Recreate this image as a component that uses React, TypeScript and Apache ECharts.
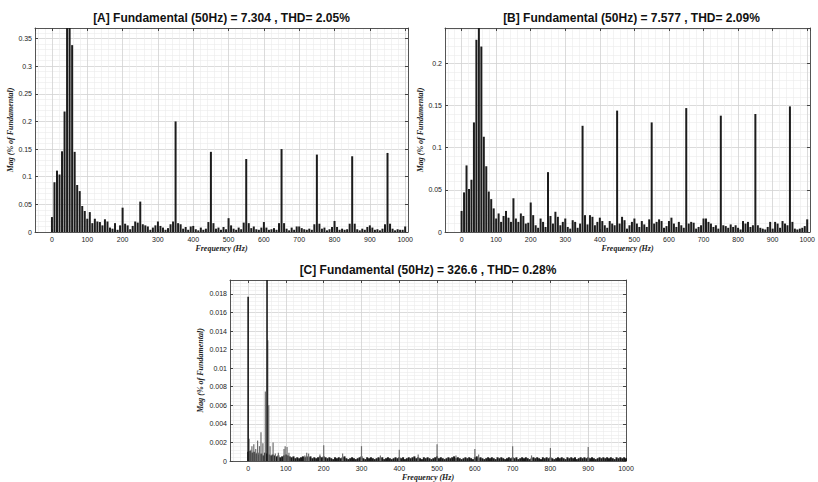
import React, { useEffect, useRef } from 'react';
import * as echarts from 'echarts';

// Frequency resolution of panels A and B (Hz)
const binAB = 50 / 7;
// Frequency step of the noise floor in panel C (Hz)
const binC = 5;

const titles = [
  '[A] Fundamental (50Hz) = 7.304 , THD= 2.05%',
  '[B] Fundamental (50Hz) = 7.577 , THD= 2.09%',
  '[C] Fundamental (50Hz) = 326.6 , THD= 0.28%',
];
const xName = 'Frequency (Hz)';
const yName = 'Mag (% of Fundamental)';

const yMax = [0.369, 0.242, 0.0195];
const yStep = [0.05, 0.05, 0.002];

// Panel A magnitudes, one per bin of 50/7 Hz from 0 to 1000 Hz
const magA = [
  0.027, 0.090, 0.111, 0.104, 0.146, 0.218, 0.40, 100, 0.338, 0.145,
  0.085, 0.074, 0.047, 0.038, 0.024, 0.036, 0.016, 0.024, 0.019, 0.018,
  0.012, 0.023, 0.019, 0.008, 0.006, 0.016, 0.004, 0.012, 0.044, 0.015,
  0.012, 0.005, 0.011, 0.019, 0.017, 0.055, 0.014, 0.012, 0.010, 0.004,
  0.008, 0.012, 0.019, 0.011, 0.008, 0.004, 0.007, 0.014, 0.019, 0.200,
  0.016, 0.014, 0.006, 0.009, 0.004, 0.010, 0.011, 0.005, 0.003, 0.008,
  0.004, 0.006, 0.018, 0.145, 0.016, 0.006, 0.008, 0.004, 0.009, 0.005,
  0.025, 0.012, 0.006, 0.004, 0.008, 0.005, 0.017, 0.132, 0.016, 0.007,
  0.010, 0.005, 0.004, 0.008, 0.018, 0.008, 0.004, 0.005, 0.007, 0.004,
  0.016, 0.150, 0.016, 0.006, 0.003, 0.008, 0.004, 0.010, 0.010, 0.007,
  0.005, 0.004, 0.006, 0.004, 0.014, 0.140, 0.015, 0.006, 0.008, 0.003,
  0.005, 0.009, 0.020, 0.009, 0.004, 0.006, 0.004, 0.005, 0.015, 0.137,
  0.015, 0.005, 0.003, 0.006, 0.004, 0.009, 0.012, 0.008, 0.004, 0.005,
  0.003, 0.006, 0.014, 0.143, 0.015, 0.006, 0.003, 0.005, 0.004, 0.004,
  0.010,
];

// Panel B magnitudes, one per bin of 50/7 Hz from 0 to 1000 Hz
const magB = [
  0.025, 0.047, 0.079, 0.051, 0.062, 0.130, 0.228, 100, 0.220, 0.113,
  0.078, 0.048, 0.039, 0.028, 0.016, 0.022, 0.012, 0.019, 0.025, 0.017,
  0.012, 0.040, 0.016, 0.012, 0.022, 0.019, 0.010, 0.011, 0.035, 0.020,
  0.008, 0.005, 0.016, 0.012, 0.006, 0.071, 0.019, 0.010, 0.024, 0.018,
  0.008, 0.012, 0.016, 0.006, 0.004, 0.014, 0.012, 0.005, 0.010, 0.126,
  0.020, 0.009, 0.020, 0.018, 0.008, 0.012, 0.017, 0.013, 0.008, 0.005,
  0.013, 0.010, 0.008, 0.144, 0.010, 0.018, 0.014, 0.004, 0.008, 0.012,
  0.016, 0.010, 0.006, 0.013, 0.009, 0.006, 0.015, 0.130, 0.010, 0.012,
  0.015, 0.013, 0.005, 0.007, 0.013, 0.017, 0.010, 0.006, 0.012, 0.008,
  0.005, 0.147, 0.010, 0.012, 0.011, 0.004, 0.006, 0.008, 0.016, 0.016,
  0.012, 0.010, 0.006, 0.008, 0.004, 0.138, 0.008, 0.007, 0.005, 0.009,
  0.006, 0.008, 0.005, 0.003, 0.013, 0.010, 0.012, 0.006, 0.008, 0.140,
  0.008, 0.005, 0.004, 0.003, 0.006, 0.012, 0.004, 0.012, 0.010, 0.005,
  0.013, 0.010, 0.008, 0.149, 0.012, 0.004, 0.003, 0.004, 0.005, 0.007,
  0.015,
];

// Panel C noise floor, one value per 5 Hz from 0 to 1000 Hz
const magCNoise = [
  0.0010, 0.0011, 0.0009, 0.0010, 0.0008, 0.0009, 0.0007, 0.0008, 0.0006, 0.0009, 0.0008, 0.0007, 0.0006, 0.0007, 0.0006, 0.0005, 0.0006, 0.0004, 0.0005, 0.0006,
  0.0007, 0.0006, 0.0005, 0.0004, 0.0005, 0.0003, 0.0004, 0.0003, 0.0004, 0.0005, 0.0004, 0.0005, 0.0004, 0.0005, 0.0003, 0.0004, 0.0003, 0.0004, 0.0005, 0.0004,
  0.0005, 0.0004, 0.0003, 0.0004, 0.0003, 0.0002, 0.0004, 0.0003, 0.0004, 0.0003, 0.0004, 0.0005, 0.0003, 0.0002, 0.0003, 0.0004, 0.0003, 0.0002, 0.0003, 0.0004,
  0.0005, 0.0003, 0.0002, 0.0004, 0.0003, 0.0004, 0.0003, 0.0002, 0.0003, 0.0004, 0.0003, 0.0004, 0.0002, 0.0003, 0.0004, 0.0003, 0.0002, 0.0003, 0.0004, 0.0003,
  0.0004, 0.0003, 0.0004, 0.0002, 0.0003, 0.0004, 0.0003, 0.0004, 0.0005, 0.0003, 0.0004, 0.0003, 0.0002, 0.0004, 0.0003, 0.0004, 0.0003, 0.0002, 0.0003, 0.0004,
  0.0005, 0.0003, 0.0004, 0.0003, 0.0002, 0.0003, 0.0004, 0.0003, 0.0004, 0.0005, 0.0003, 0.0004, 0.0003, 0.0002, 0.0003, 0.0004, 0.0003, 0.0004, 0.0003, 0.0002,
  0.0004, 0.0005, 0.0003, 0.0004, 0.0003, 0.0002, 0.0003, 0.0004, 0.0003, 0.0004, 0.0003, 0.0002, 0.0004, 0.0003, 0.0004, 0.0003, 0.0002, 0.0003, 0.0004, 0.0003,
  0.0004, 0.0003, 0.0004, 0.0002, 0.0003, 0.0004, 0.0003, 0.0004, 0.0003, 0.0002, 0.0003, 0.0004, 0.0003, 0.0004, 0.0003, 0.0002, 0.0004, 0.0003, 0.0004, 0.0003,
  0.0004, 0.0003, 0.0002, 0.0003, 0.0004, 0.0003, 0.0004, 0.0003, 0.0002, 0.0004, 0.0003, 0.0004, 0.0003, 0.0004, 0.0002, 0.0003, 0.0004, 0.0003, 0.0004, 0.0003,
  0.0004, 0.0003, 0.0004, 0.0003, 0.0002, 0.0003, 0.0004, 0.0003, 0.0004, 0.0003, 0.0004, 0.0003, 0.0004, 0.0003, 0.0002, 0.0004, 0.0003, 0.0004, 0.0003, 0.0004,
  0.0003,
];

// Panel C dark spectral lines (DC and fundamental): [frequency Hz, magnitude]
const linesCDark: [number, number][] = [[0, 0.0177], [50, 100]];
// Panel C grey spectral lines: [frequency Hz, magnitude]
const linesCGrey: [number, number][] = [
  [2.5, 0.0024], [7.5, 0.0012], [10, 0.0016], [15, 0.0018],
  [20, 0.0013], [25, 0.0022], [30, 0.0016], [34, 0.0031], [39, 0.0019],
  [45.5, 0.0075], [52, 0.013], [54.5, 0.006], [58, 0.0016],
  [66, 0.002], [72, 0.0008], [80, 0.0009], [95, 0.0013], [98, 0.0016],
  [103, 0.0015], [108, 0.0009], [150, 0.0006], [155, 0.0009], [160, 0.0008],
  [190, 0.0007], [200, 0.0017], [250, 0.0008], [300, 0.0016], [350, 0.0006],
  [400, 0.0012], [450, 0.0007], [500, 0.0018], [550, 0.0006], [600, 0.0013],
  [610, 0.0007], [700, 0.0016], [750, 0.0006], [800, 0.0014], [900, 0.0015],
];

const gridBoxes = [
  { left: 35, top: 28, width: 373, height: 204 },
  { left: 445, top: 28, width: 373, height: 204 },
  { left: 230, top: 280, width: 396, height: 185 },
];
const xRanges: [number, number][] = [[-48, 1008], [-48, 1008], [-48, 1000]];
const yNameGaps = [19, 15, 26];

const labelFont = { fontFamily: 'Liberation Sans, Arial, sans-serif', fontSize: 7, color: '#222' };
const nameFont = {
  fontFamily: 'Liberation Serif, Times New Roman, serif',
  fontStyle: 'italic' as const,
  fontWeight: 'bold' as const,
  fontSize: 8,
  color: '#222',
};

function xAxisDef(i: number, kind: 'bottom' | 'top' | 'hidden') {
  const main = kind === 'bottom';
  return {
    type: 'value',
    gridIndex: i,
    position: kind === 'bottom' ? 'bottom' : 'top',
    show: kind !== 'hidden',
    min: xRanges[i][0],
    max: xRanges[i][1],
    splitNumber: 10,
    name: main ? xName : '',
    nameLocation: 'middle',
    nameGap: 12,
    nameTextStyle: nameFont,
    axisLine: { show: true, onZero: false, lineStyle: { color: '#555', width: 1 } },
    axisTick: { show: true, inside: true, length: 3, lineStyle: { color: '#444' } },
    axisLabel: {
      show: main,
      margin: 4,
      showMinLabel: false,
      showMaxLabel: xRanges[i][1] === 1000,
      formatter: (v: number) => String(v),
      ...labelFont,
    },
    splitLine: { show: main, lineStyle: { color: '#d2d2d2', width: 0.8 } },
    minorTick: { show: false, splitNumber: 5 },
    minorSplitLine: { show: main, lineStyle: { color: '#ebebeb', width: 0.6 } },
  };
}

function yAxisDef(i: number, right: boolean) {
  return {
    type: 'value',
    gridIndex: i,
    position: right ? 'right' : 'left',
    min: 0,
    max: yMax[i],
    interval: yStep[i],
    name: right ? '' : yName,
    nameLocation: 'middle',
    nameGap: yNameGaps[i],
    nameTextStyle: nameFont,
    axisLine: { show: true, onZero: false, lineStyle: { color: '#555', width: 1 } },
    axisTick: { show: true, inside: true, length: 3, lineStyle: { color: '#444' } },
    axisLabel: { show: !right, margin: 3, showMaxLabel: false, ...labelFont },
    splitLine: { show: !right, lineStyle: { color: '#d2d2d2', width: 0.8 } },
    minorTick: { show: false, splitNumber: 5 },
    minorSplitLine: { show: !right, lineStyle: { color: '#ebebeb', width: 0.6 } },
  };
}

export default function App() {
  const ref = useRef<HTMLDivElement>(null);

  useEffect(() => {
    if (!ref.current) return;
    const chart = echarts.init(ref.current, null, { renderer: 'svg' });

    const dataA = magA.map((v, k) => [k * binAB, v]);
    const dataB = magB.map((v, k) => [k * binAB, v]);
    const dataCNoise = magCNoise.map((v, k) => [k * binC, v]);

    // axes: per grid -> bottom, top; grid C has one extra hidden x axis
    const xAxes: any[] = [
      xAxisDef(0, 'bottom'), xAxisDef(0, 'top'),
      xAxisDef(1, 'bottom'), xAxisDef(1, 'top'),
      xAxisDef(2, 'bottom'), xAxisDef(2, 'top'), xAxisDef(2, 'hidden'),
    ];
    const yAxes: any[] = [];
    for (let i = 0; i < 3; i++) {
      yAxes.push(yAxisDef(i, false));
      yAxes.push(yAxisDef(i, true));
    }

    const titleEls = titles.map((t, i) => ({
      type: 'text',
      x: gridBoxes[i].left + gridBoxes[i].width / 2,
      y: gridBoxes[i].top - 10,
      style: {
        text: t,
        textAlign: 'center',
        textVerticalAlign: 'middle',
        fontFamily: 'Liberation Sans, Arial, sans-serif',
        fontWeight: 'bold',
        fontSize: 12,
        fill: '#111',
      },
    }));

    chart.setOption({
      animation: false,
      backgroundColor: '#ffffff',
      grid: gridBoxes.map((g) => ({ ...g, show: true, backgroundColor: '#fff', borderWidth: 0 })),
      xAxis: xAxes,
      yAxis: yAxes,
      graphic: titleEls,
      series: [
        {
          type: 'bar', xAxisIndex: 0, yAxisIndex: 0, data: dataA, barWidth: 2,
          itemStyle: { color: '#1c1c1c' }, clip: true, silent: true,
        },
        {
          type: 'bar', xAxisIndex: 2, yAxisIndex: 2, data: dataB, barWidth: 2,
          itemStyle: { color: '#1c1c1c' }, clip: true, silent: true,
        },
        {
          type: 'bar', xAxisIndex: 4, yAxisIndex: 4, data: dataCNoise, barWidth: 2,
          itemStyle: { color: '#1a1a1a' }, clip: true, silent: true,
        },
        {
          type: 'bar', xAxisIndex: 5, yAxisIndex: 4, data: linesCGrey, barWidth: 1.2,
          itemStyle: { color: '#6e6e6e' }, clip: true, silent: true,
        },
        {
          type: 'bar', xAxisIndex: 6, yAxisIndex: 4, data: linesCDark, barWidth: 1.6,
          itemStyle: { color: '#1a1a1a' }, clip: true, silent: true,
        },
      ],
    });

    return () => chart.dispose();
  }, []);

  return (
    <div
      ref={ref}
      style={{ position: 'fixed', left: 0, top: 0, width: 818, height: 482, background: '#fff' }}
    />
  );
}
